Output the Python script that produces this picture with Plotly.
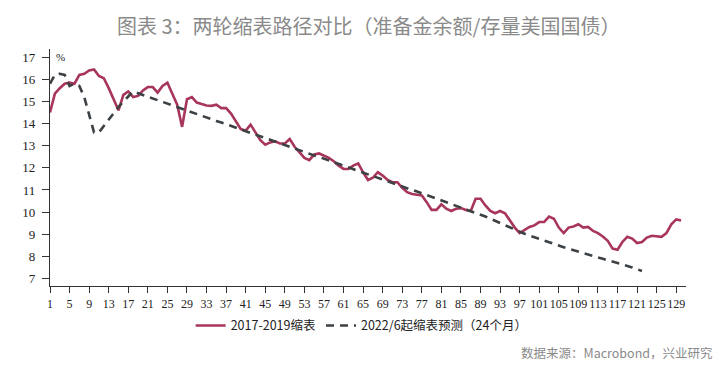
import plotly.graph_objects as go

# ---- data ----
red_name = "2017-2019缩表"
red_values = [
    14.5, 15.35, 15.6, 15.8, 15.85, 15.8, 16.2, 16.25, 16.4, 16.45,
    16.15, 16.05, 15.6, 15.1, 14.6, 15.3, 15.45, 15.2, 15.25, 15.5,
    15.65, 15.65, 15.4, 15.7, 15.85, 15.35, 14.85, 13.85, 15.1, 15.2,
    14.95, 14.88, 14.82, 14.8, 14.85, 14.7, 14.7, 14.45, 14.1, 13.75,
    13.68, 13.95, 13.6, 13.25, 13.05, 13.15, 13.2, 13.1, 13.1, 13.3,
    12.95, 12.7, 12.45, 12.35, 12.6, 12.65, 12.55, 12.45, 12.3, 12.1,
    11.95, 11.95, 12.1, 12.2, 11.8, 11.45, 11.55, 11.8, 11.65, 11.45,
    11.35, 11.35, 11.1, 10.9, 10.82, 10.8, 10.75, 10.45, 10.1, 10.1,
    10.35, 10.15, 10.05, 10.15, 10.18, 10.1, 10.05, 10.6, 10.6, 10.3,
    10.05, 9.95, 10.05, 9.95, 9.6, 9.3, 9.05, 9.2, 9.33, 9.4,
    9.55, 9.55, 9.8, 9.7, 9.3, 9.05, 9.3, 9.35, 9.45, 9.3,
    9.33, 9.15, 9.05, 8.9, 8.7, 8.35, 8.3, 8.65, 8.88, 8.8,
    8.6, 8.65, 8.85, 8.93, 8.92, 8.88, 9.05, 9.45, 9.67, 9.62,
]
dash_name = "2022/6起缩表预测（24个月）"
dash_values = [
    15.8, 16.2, 16.25, 16.2, 15.7, 15.8, 15.7, 15.2, 14.4, 13.6,
    13.6, 13.9, 14.2, 14.5, 14.75, 15.0, 15.25, 15.45, 15.37, 15.29,
    15.22, 15.14, 15.06, 14.98, 14.90, 14.83, 14.75, 14.67, 14.59, 14.51,
    14.44, 14.36, 14.28, 14.20, 14.12, 14.05, 13.97, 13.89, 13.81, 13.73,
    13.66, 13.58, 13.50, 13.42, 13.34, 13.27, 13.19, 13.11, 13.03, 12.95,
    12.88, 12.80, 12.72, 12.64, 12.56, 12.49, 12.41, 12.33, 12.25, 12.17,
    12.10, 12.02, 11.94, 11.86, 11.78, 11.71, 11.63, 11.55, 11.47, 11.39,
    11.32, 11.24, 11.16, 11.08, 11.00, 10.93, 10.85, 10.77, 10.69, 10.61,
    10.54, 10.46, 10.38, 10.30, 10.22, 10.15, 10.07, 9.99, 9.9, 9.8,
    9.7, 9.6, 9.5, 9.4, 9.3, 9.2, 9.1, 9.02, 8.94, 8.86,
    8.78, 8.7, 8.62, 8.55, 8.48, 8.41, 8.34, 8.27, 8.2, 8.13,
    8.07, 8.01, 7.95, 7.89, 7.83, 7.77, 7.71, 7.64, 7.57, 7.5,
    7.42, 7.34,
]
red_x = list(range(1, len(red_values) + 1))
dash_x = list(range(1, len(dash_values) + 1))
x_tick_vals = list(range(1, 131, 4))
x_tick_text = [str(v) for v in x_tick_vals]
y_tick_vals = [7, 8, 9, 10, 11, 12, 13, 14, 15, 16, 17]

title_text = "图表 3：两轮缩表路径对比（准备金余额/存量美国国债）"
source_text = "数据来源：Macrobond，兴业研究"

SERIF = "Liberation Serif, Times New Roman, serif"

fig = go.Figure()
fig.add_trace(go.Scatter(
    x=red_x, y=red_values, mode="lines", name=red_name,
    line=dict(color="#a8365a", width=2.6),
))
fig.add_trace(go.Scatter(
    x=dash_x, y=dash_values, mode="lines", name=dash_name,
    line=dict(color="#3c4146", width=2.6, dash="8px,6px"),
))

# the page body has an 8px margin, so the figure is 720x363 and offset by 8px
fig.update_layout(
    width=720, height=363,
    margin=dict(l=42, r=42, t=41, b=85, autoexpand=False),
    paper_bgcolor="white", plot_bgcolor="white",
    showlegend=True,
    legend=dict(
        orientation="h", x=0.49, xanchor="center", y=-0.105, yanchor="top",
        font=dict(family="Noto Sans CJK SC", size=12.5, color="#222222"),
        itemwidth=30, tracegroupgap=0,
    ),
    font=dict(family=SERIF, size=13, color="#222222"),
)
fig.update_xaxes(
    range=[1, 131], showgrid=False, zeroline=False, automargin=False,
    showline=True, linecolor="#333333", linewidth=1.2,
    ticks="outside", ticklen=6, tickcolor="#333333", tickwidth=1.2,
    tickvals=x_tick_vals, ticktext=x_tick_text, tickangle=0,
    tickfont=dict(family=SERIF, size=12, color="#222222"),
)
fig.update_yaxes(
    range=[6.66, 17.37], showgrid=False, zeroline=False, automargin=False,
    showline=True, linecolor="#333333", linewidth=1.2,
    ticks="outside", ticklen=7, tickcolor="#333333", tickwidth=1.2,
    ticklabelstandoff=4,
    tickvals=y_tick_vals,
    tickfont=dict(family=SERIF, size=13, color="#222222"),
)

fig.add_annotation(
    text=title_text, xref="paper", yref="paper", x=0.5, y=1.0,
    xanchor="center", yanchor="bottom", yshift=7, showarrow=False,
    font=dict(family="Noto Sans CJK SC", size=20, color="#8a8a8a"),
)
fig.add_annotation(
    text="%", xref="paper", yref="y", x=0.0, y=17.0, xanchor="left",
    xshift=4, showarrow=False,
    font=dict(family=SERIF, size=11, color="#222222"),
)
fig.add_annotation(
    text=source_text, xref="paper", yref="paper", x=1.0, y=0, xanchor="right",
    yanchor="middle", xshift=29, yshift=-66, showarrow=False,
    font=dict(family="Noto Sans CJK SC", size=12.5, color="#8a8a8a"),
)

fig.write_html("out.html")
